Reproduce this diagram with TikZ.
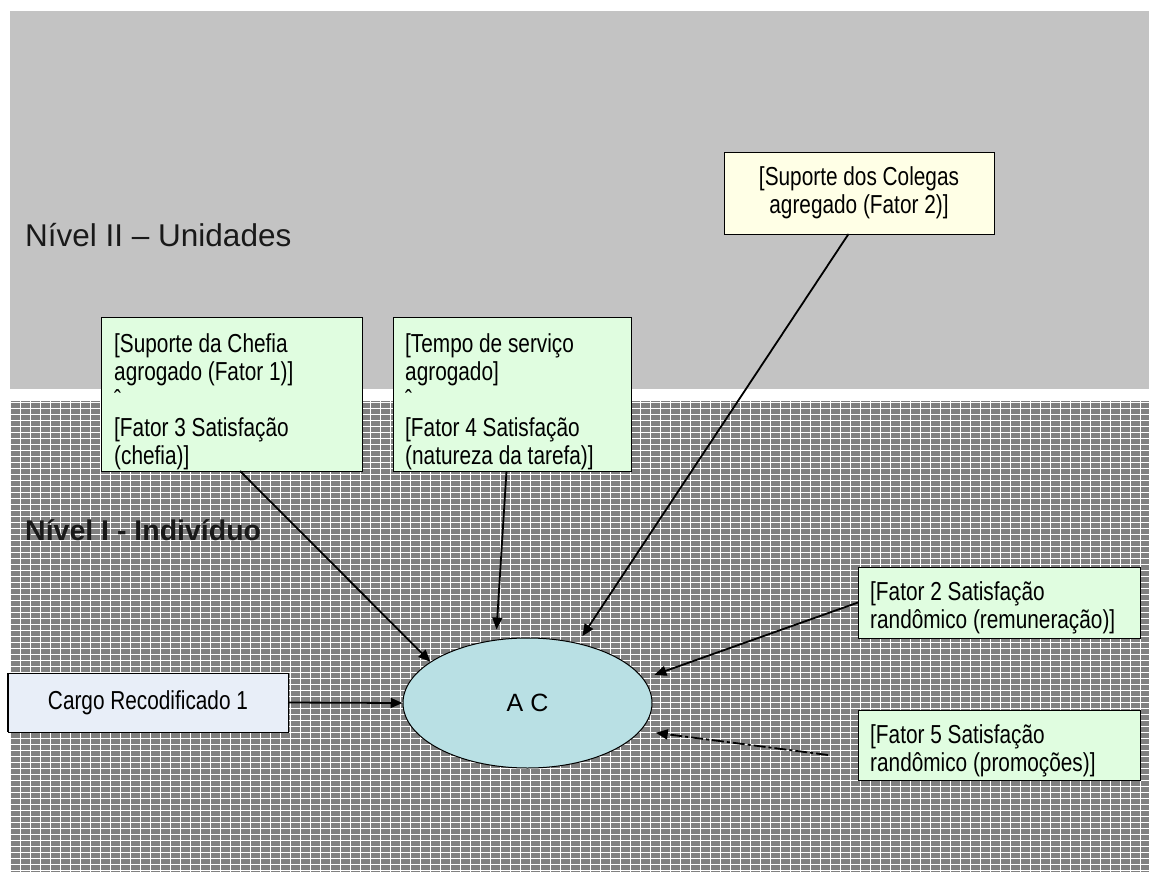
\documentclass[tikz,border=0pt]{standalone}
\usepackage{fontspec}
\setmainfont{Liberation Sans}
\newfontfamily\narrowsans[FakeStretch=0.8]{Liberation Sans}
\usetikzlibrary{shapes.geometric,arrows.meta}
\definecolor{upperbg}{HTML}{C3C3C3}
\definecolor{lowerbg}{HTML}{808080}
\definecolor{greenfill}{HTML}{E0FDE0}
\definecolor{ivoryfill}{HTML}{FFFFE6}
\definecolor{bluefill}{HTML}{E8EEF8}
\definecolor{ellfill}{HTML}{B9E0E4}

\begin{document}
\begin{tikzpicture}[x=1pt,y=-1pt,
  boxfont/.style={font=\narrowsans\fontsize{26}{28}\selectfont},
  panel/.style={draw=black, line width=0.9pt, inner sep=0pt, outer sep=0pt},
  greenpanel/.style={panel, fill=greenfill},
  boxtext/.style={boxfont, anchor=north west, inner sep=0pt, align=left},
  link/.style={line width=1.8pt, -{Triangle[length=12pt,width=10pt]}},
  level/.style={anchor=base west, inner sep=0pt, text=black!90},
]
\useasboundingbox (0,0) rectangle (1149,872);

% upper band (level II) and lower band (level I)
\fill[upperbg] (10,11) rectangle (1149,389);
\fill[lowerbg] (10,401) rectangle (1149,872);
\begin{scope}
  \clip (10,401) rectangle (1149,872);
  \draw[white, line width=1pt, xstep=10pt, ystep=6pt] (10,401) grid (1149,872);
\end{scope}

% level titles
\node[level, font=\fontsize{31.5}{32}\selectfont] (lvltwo) at (25,246) {Nível II – Unidades};
\node[level, font=\bfseries\fontsize{28.5}{30}\selectfont] (lvlone) at (25,540) {Nível I - Indivíduo};

% level II box
\node[panel, fill=ivoryfill, boxfont, align=center, minimum width=270pt, minimum height=82pt]
  (colegas) at (859,193) {{[}Suporte dos Colegas\\agregado (Fator 2)]};

% cross-level boxes
\node[greenpanel, minimum width=261pt, minimum height=154pt] (chefia) at (231.5,394) {};
\node[boxtext] (chefiatxt) at ([shift={(13,16)}]chefia.north west)
  {{[}Suporte da Chefia\\agrogado (Fator 1)]\\ˆ\\{[}Fator 3 Satisfação\\(chefia)]};

\node[greenpanel, minimum width=238pt, minimum height=154pt] (tempo) at (512,394) {};
\node[boxtext] (tempotxt) at ([shift={(12,16)}]tempo.north west)
  {{[}Tempo de serviço\\agrogado]\\ˆ\\{[}Fator 4 Satisfação\\(natureza da tarefa)]};

% level I boxes
\node[greenpanel, minimum width=282pt, minimum height=71pt] (fatdois) at (999,602.5) {};
\node[boxtext] (fatdoistxt) at ([shift={(12,14)}]fatdois.north west)
  {{[}Fator 2 Satisfação\\randômico (remuneração)]};

\node[greenpanel, minimum width=282pt, minimum height=70pt] (fatcinco) at (999,745) {};
\node[boxtext] (fatcincotxt) at ([shift={(12,14)}]fatcinco.north west)
  {{[}Fator 5 Satisfação\\randômico (promoções)]};

\node[panel, fill=bluefill, boxfont, minimum width=280pt, minimum height=59pt]
  (cargo) at (148,702.5) {Cargo Recodificado 1};
\draw[line width=2pt] (cargo.north west) -- (cargo.south west);

% outcome
\node[draw, ellipse, fill=ellfill, line width=1pt, inner sep=0pt,
  minimum width=249pt, minimum height=130pt, font=\fontsize{25}{28}\selectfont]
  (ac) at (527.5,703) {A C};

% effects
\coordinate (fcincotail) at (828,755);
\draw[link] ([xshift=8.5pt]chefia.south) -- (ac.157);
\draw[link] ([xshift=-5.5pt]tempo.south) -- ([yshift=10pt]ac.116);
\draw[link] ([xshift=-10.5pt]colegas.south) -- ([yshift=8pt]ac.47);
\draw[link] (fatdois.west) -- ([xshift=14pt]ac.14);
\draw[link, dash pattern=on 12pt off 3pt on 3pt off 3pt] (fcincotail) -- ([xshift=17pt]ac.-15);
\draw[link] (cargo.east) -- (ac.west);
\end{tikzpicture}
\end{document}
